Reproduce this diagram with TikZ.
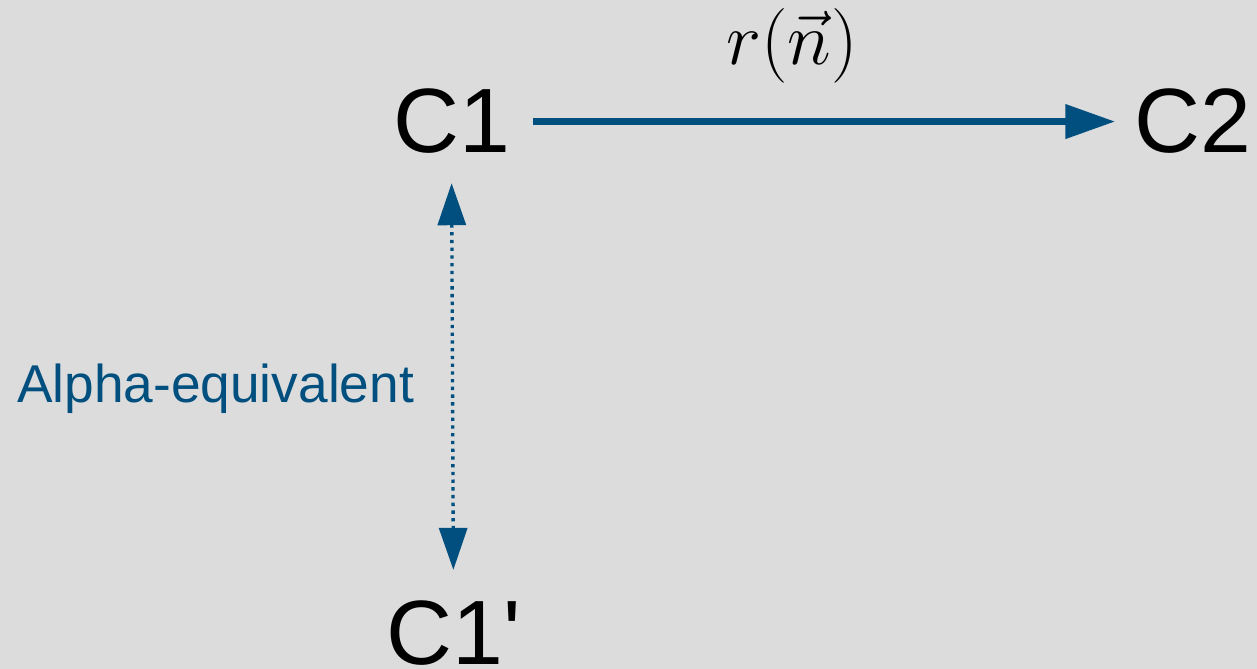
\documentclass[tikz,border=0pt]{standalone}
\usepackage{fix-cm}
\usepackage[no-math]{fontspec}
\setmainfont{Liberation Sans}
\definecolor{bggray}{RGB}{220,220,220}
\definecolor{arrblue}{RGB}{0,79,127}
\usetikzlibrary{arrows.meta}

\begin{document}
\begin{tikzpicture}[x=0.02cm, y=-0.02cm,
        cnode/.style={inner sep=0pt, anchor=base, font=\fontsize{52}{60}\selectfont},
        steparr/.style={-{Triangle[length=1cm, width=0.66cm]}, line width=4.2pt, arrblue},
        equivarr/.style={{Triangle[length=0.84cm, width=0.56cm]}-{Triangle[length=0.84cm, width=0.56cm]},
                         line width=1.9pt, dash pattern=on 1.9pt off 2.5pt, arrblue}
      ]
        \fill[bggray] (0,0) rectangle (1257,669);
        \useasboundingbox (0,0) rectangle (1257,669);

        \node[cnode] (c1)  at (451.5,153) {C1};
        \node[cnode] (c2)  at (1193,153)  {C2};
        \node[cnode] (c1p) at (453.5,664) {C1\textquotesingle};

        \draw[steparr, shorten <=0.46cm, shorten >=0.38cm] (c1.east) -- (c2.west);
        \draw[equivarr, shorten <=0.58cm, shorten >=0.6cm] (c1.south) -- (c1p.north);

        \node[inner sep=0pt, anchor=base, font=\fontsize{42.5}{50}\selectfont] (rlbl) at (792,65) {$r(\vec{n})$};
        \node[inner sep=0pt, anchor=base west, arrblue, font=\fontsize{30.3}{36}\selectfont] (alphalbl) at (17,402) {Alpha-equivalent};
      \end{tikzpicture}
\end{document}
